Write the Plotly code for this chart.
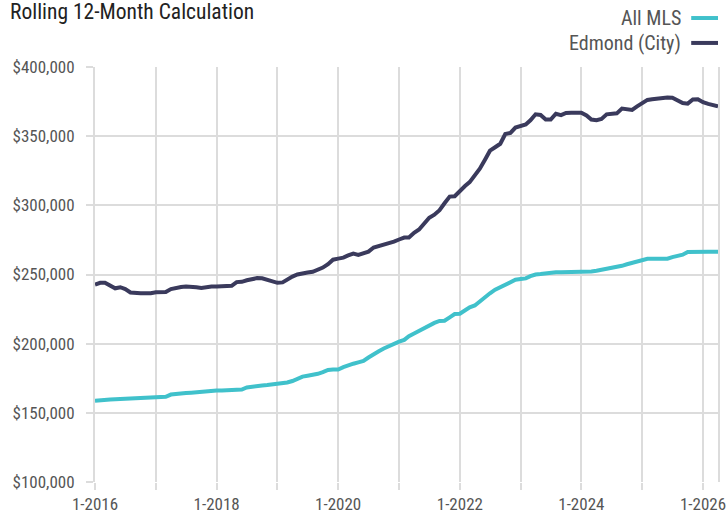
import pandas as pd
import plotly.graph_objects as go

months = pd.date_range("2016-01-01", "2026-04-01", freq="MS")

edmond_city = [
    242.7, 244.0, 244.0, 242.0, 240.0, 240.8, 239.5, 237.0, 236.5, 236.4,
    236.4, 236.4, 237.2, 237.4, 237.4, 239.5, 240.6, 241.0, 241.3, 241.3,
    240.8, 240.3, 241.0, 241.3, 241.3, 241.5, 241.7, 241.8, 244.5, 244.7,
    245.8, 246.5, 247.4, 247.3, 246.2, 244.5, 244.0, 244.3, 246.5, 248.5,
    250.0, 251.0, 251.5, 252.0, 253.3, 255.0, 257.5, 260.7, 261.5, 262.2,
    263.8, 265.1, 264.2, 265.0, 266.5, 269.5, 270.5, 271.4, 272.5, 273.8,
    275.3, 276.7, 276.8, 280.2, 282.5, 286.5, 291.0, 293.2, 296.5, 301.5,
    306.3, 306.6, 310.5, 314.0, 316.8, 321.5, 326.5, 333.0, 339.5, 342.0,
    344.5, 351.5, 352.4, 356.2, 357.2, 358.5, 361.5, 365.8, 365.3, 362.0,
    362.0, 366.2, 365.2, 366.8, 367.0, 367.0, 367.0, 365.0, 362.0, 361.6,
    362.5, 365.8, 366.2, 366.5, 370.0, 369.3, 369.0, 371.5, 374.0, 376.2,
    376.7, 377.3, 377.5, 377.9, 377.8, 376.0, 374.0, 373.5, 376.5, 376.7,
    374.5, 373.3, 372.5, 371.5,
]

all_mls = [
    158.8, 159.3, 159.7, 159.7, 159.8, 160.0, 160.2, 160.6, 161.0, 161.3,
    161.4, 161.4, 161.4, 161.4, 161.6, 163.2, 163.8, 164.1, 164.3, 164.6,
    165.0, 165.6, 166.0, 166.1, 166.1, 166.2, 166.3, 166.4, 166.5, 166.8,
    168.3, 169.0, 169.5, 169.8, 170.1, 170.5, 170.8, 171.3, 171.9, 173.0,
    174.5, 176.2, 176.8, 177.2, 178.2, 179.4, 181.0, 181.3, 181.3, 183.0,
    184.5, 185.5, 186.5, 187.5, 190.0, 192.5, 194.5, 196.5, 198.3, 200.0,
    201.4, 202.7, 205.4, 207.3, 209.2, 211.5, 213.4, 215.0, 216.4, 216.6,
    219.0, 221.4, 221.6, 224.0, 226.3, 227.6, 230.8, 233.5, 236.4, 239.0,
    241.0, 242.8, 244.7, 246.2, 246.7, 247.2, 248.8, 250.0, 250.3, 250.8,
    251.5, 251.7, 251.7, 251.7, 251.7, 251.7, 251.7, 251.8, 252.2, 252.7,
    253.3, 254.2, 254.5, 255.2, 256.3, 257.4, 258.5, 259.3, 260.3, 261.4,
    261.4, 261.4, 261.4, 261.4, 262.6, 263.8, 264.3, 266.3, 266.5, 266.5,
    266.5, 266.5, 266.5, 266.5,
]

series_names = ["All MLS", "Edmond (City)"]
series_colors = ["#40c1cb", "#3a3a5c"]
title_text = "Rolling 12-Month Calculation"

FONT = "Liberation Sans Narrow, Arial Narrow, Roboto Condensed, sans-serif"
GRID = "#dcdcdc"

fig = go.Figure()
for name, vals, col in [
    (series_names[0], all_mls, series_colors[0]),
    (series_names[1], edmond_city, series_colors[1]),
]:
    fig.add_trace(go.Scatter(
        x=months, y=[v * 1000 for v in vals], mode="lines", name=name,
        line=dict(color=col, width=4), showlegend=False,
    ))

# legend drawn on the right with sample line after the text
for i, (name, col) in enumerate(zip(series_names, series_colors)):
    yy = 1.118 - i * 0.06
    fig.add_annotation(xref="paper", yref="paper", x=0.944, y=yy, text=name,
                       showarrow=False, xanchor="right", yanchor="middle",
                       font=dict(family=FONT, size=20, color="#555555"))
    fig.add_shape(type="line", xref="paper", yref="paper",
                  x0=0.957, x1=1.0, y0=yy, y1=yy,
                  line=dict(color=col, width=4))

fig.update_layout(
    width=727, height=515,
    margin=dict(l=95, r=9, t=67, b=33),
    paper_bgcolor="white", plot_bgcolor="white",
    font=dict(family=FONT, size=17, color="#555555"),
    title=dict(text=title_text, x=0.0138, xanchor="left", y=0.977, yanchor="middle",
               font=dict(family=FONT, size=21.5, color="#222222")),
)
fig.update_xaxes(
    type="date", automargin=False,
    range=[months[0], months[-1]],
    tick0="2016-01-01", dtick="M24", tickformat="%-m-%Y",
    showgrid=True, gridcolor=GRID, gridwidth=2,
    ticks="outside", ticklen=7, tickcolor=GRID, tickwidth=2,
    minor=dict(dtick="M12", tick0="2016-01-01", showgrid=True, gridcolor=GRID,
               gridwidth=2, ticks="outside", ticklen=7, tickcolor=GRID, tickwidth=2),
    showline=False, zeroline=False,
    tickfont=dict(family=FONT, size=17, color="#555555"),
)
fig.update_yaxes(
    automargin=False,
    range=[100000, 400000], dtick=50000, tickformat="$,.0f",
    showgrid=True, gridcolor=GRID, gridwidth=2,
    ticks="outside", ticklen=7, tickcolor=GRID, tickwidth=2,
    ticklabelstandoff=8,
    showline=True, mirror=True, linecolor=GRID, linewidth=2,
    zeroline=False,
    tickfont=dict(family=FONT, size=17, color="#555555"),
)

fig.write_html("out.html", config={"displayModeBar": False},
               post_script="document.body.style.margin='0';document.body.style.padding='0';")
